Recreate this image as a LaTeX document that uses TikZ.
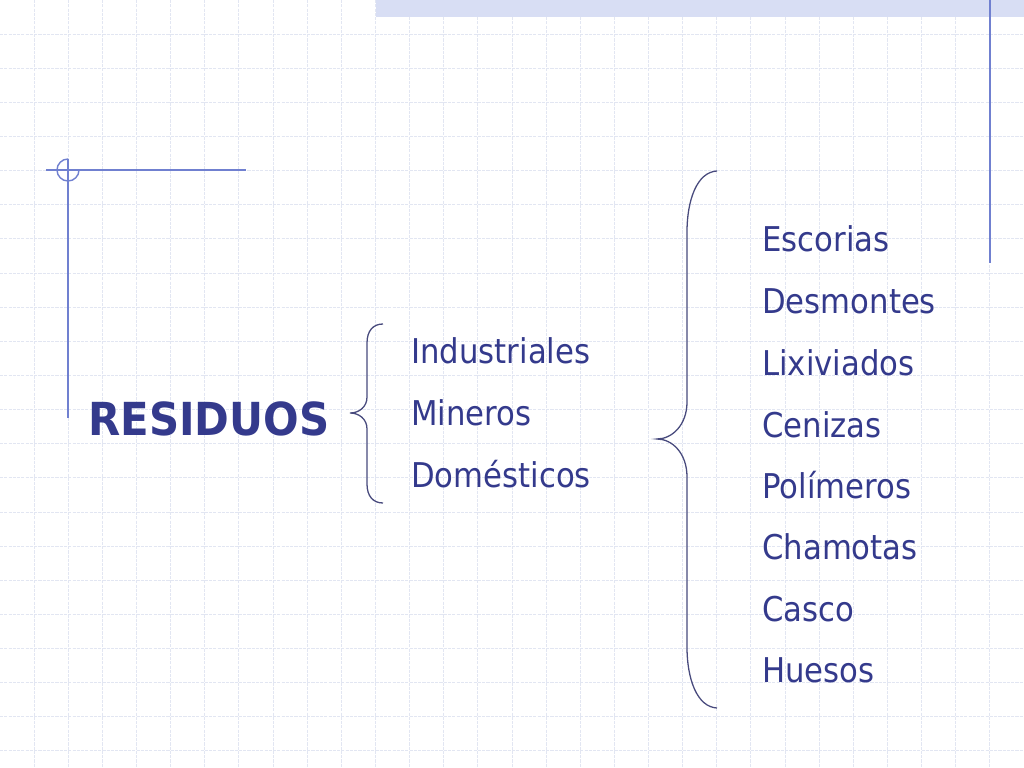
\documentclass[tikz,border=0pt]{standalone}
\usepackage{fontspec}
\setmainfont{DejaVu Sans}[FakeStretch=0.9,BoldFeatures={FakeStretch=0.92}]
\definecolor{txtblue}{RGB}{52,58,140}
\definecolor{bracecol}{RGB}{72,74,125}
\definecolor{gridcol}{RGB}{226,230,242}
\definecolor{decoblue}{RGB}{112,128,208}
\definecolor{bandcol}{RGB}{216,222,244}
\tikzset{
  item/.style={anchor=base west,inner sep=0pt,text=txtblue,font=\fontsize{24}{28}\selectfont},
  title/.style={anchor=base west,inner sep=0pt,text=txtblue,font=\fontsize{32}{38}\selectfont\bfseries},
  gridline/.style={draw=gridcol,line width=0.7pt,dash pattern=on 2.2pt off 0.8pt},
  deco/.style={draw=decoblue,line width=1pt},
  bracestyle/.style={draw=bracecol,line width=0.9pt}
}
\begin{document}
\begin{tikzpicture}[x=0.703125pt,y=-0.703125pt]
\useasboundingbox (0,0) rectangle (1024,768);
\fill[white] (0,0) rectangle (1024,768);
% grid
\foreach \k in {1,...,29} {\draw[gridline] ({\k*34.1333},0) -- ({\k*34.1333},768);}
\foreach \k in {1,...,22} {\draw[gridline] (0,{\k*34.1333}) -- (1024,{\k*34.1333});}
% top band
\fill[bandcol] (376,0) rectangle (1024,17);
% decorations
\draw[deco] (46,170) -- (246,170);
\draw[deco] (68,159) -- (68,418);
\draw[deco] (68,159) arc[start angle=270,end angle=0,radius=11];
\draw[deco] (990,0) -- (990,263);
% texts
\node[title] (res) at (88,435) {RESIDUOS};
\node[item] (ind) at (411,363) {Industriales};
\node[item] (min) at (411,425) {Mineros};
\node[item] (dom) at (411,487) {Domésticos};
\node[item] (esc) at (762,252) {Escorias};
\node[item] (des) at (762,313) {Desmontes};
\node[item] (lix) at (762,375) {Lixiviados};
\node[item] (cen) at (762,437) {Cenizas};
\node[item] (pol) at (762,498) {Polímeros};
\node[item] (cha) at (762,559) {Chamotas};
\node[item] (cas) at (762,621) {Casco};
\node[item] (hue) at (762,682) {Huesos};
% small brace
\draw[bracestyle] (383,324) .. controls (373,324) and (367,331) .. (367,343)
  -- (367,397) .. controls (367,407) and (359,413) .. (350,413)
  .. controls (359,413) and (367,419) .. (367,429)
  -- (367,484) .. controls (367,496) and (373,503) .. (383,503);
% large brace
\draw[bracestyle] (717,171) .. controls (697,172) and (687,200) .. (687,232)
  -- (687,402) .. controls (687,425) and (672,439) .. (657,439)
  .. controls (672,439) and (687,453) .. (687,477)
  -- (687,647) .. controls (687,679) and (697,707) .. (717,708);
\end{tikzpicture}
\end{document}
